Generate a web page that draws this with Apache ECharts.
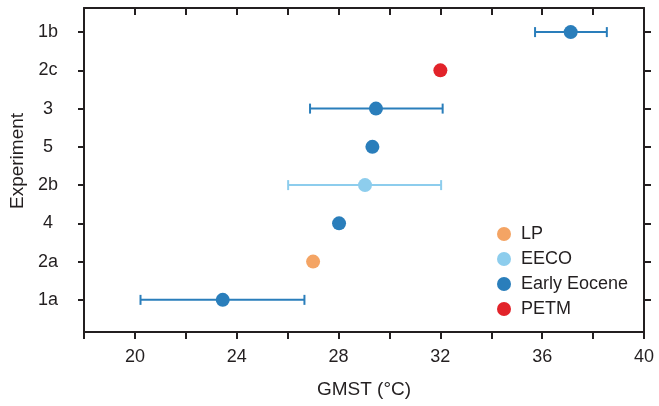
<!DOCTYPE html>
<html>
<head>
<meta charset="utf-8">
<script src="https://cdn.jsdelivr.net/npm/echarts@6/dist/echarts.min.js"></script>
<style>
html,body{margin:0;padding:0;background:#fff;}
#chart{width:659px;height:406px;}
</style>
</head>
<body>
<div id="chart"></div>
<script>
// Experiments from bottom (position 1) to top (position 8)
const experiments = ['1a', '2a', '4', '2b', '5', '3', '2c', '1b'];
// Series: [position, GMST]
const lpData = [[2, 27.0]];
const eecoData = [[4, 29.04]];
const earlyEoceneData = [[1, 23.45], [3, 28.02], [5, 29.33], [6, 29.47], [8, 37.12]];
const petmData = [[7, 32.0]];
// Error bars: [position, low, high, group]
const errorBars = [
  [1, 20.22, 26.66, 'Early Eocene'],
  [4, 26.02, 32.03, 'EECO'],
  [6, 26.88, 32.09, 'Early Eocene'],
  [8, 35.72, 38.54, 'Early Eocene']
];
const xTicks = [20, 24, 28, 32, 36, 40];

const colors = {
  'LP': '#F4A464',
  'EECO': '#8DCDED',
  'Early Eocene': '#2A7EBB',
  'PETM': '#E2232A'
};
const axisColor = '#231f20';
const font = '"Liberation Sans", Arial, sans-serif';

const chart = echarts.init(document.getElementById('chart'), null, {renderer: 'canvas'});

const posValues = experiments.map((_, i) => i + 1);

function scatter(name, data) {
  return {
    name: name,
    type: 'scatter',
    data: data.map(d => [d[1], d[0]]),
    symbol: 'circle',
    symbolSize: 14,
    itemStyle: {color: colors[name], opacity: 1},
    z: 5
  };
}

const option = {
  animation: false,
  textStyle: {fontFamily: font},
  grid: {left: 84, right: 15, top: 8, bottom: 74, containLabel: false},
  legend: {
    orient: 'vertical',
    left: 492,
    top: 220,
    icon: 'circle',
    itemWidth: 14,
    itemHeight: 14,
    itemGap: 7,
    data: ['LP', 'EECO', 'Early Eocene', 'PETM'],
    textStyle: {fontSize: 18, color: axisColor, fontFamily: font, padding: [0, 0, 0, 5]}
  },
  xAxis: [
    {
      type: 'value', position: 'bottom', min: 18, max: 40, interval: 2,
      name: 'GMST (°C)', nameLocation: 'middle', nameGap: 48,
      nameTextStyle: {fontSize: 19, color: axisColor, fontFamily: font},
      axisLine: {show: true, lineStyle: {color: axisColor, width: 2}},
      axisTick: {show: true, inside: false, length: 7, lineStyle: {color: axisColor, width: 2}},
      axisLabel: {
        show: true, margin: 16, fontSize: 18, color: axisColor, fontFamily: font,
        formatter: v => (xTicks.indexOf(v) >= 0 ? String(v) : '')
      },
      splitLine: {show: false}
    },
    {
      type: 'value', position: 'top', min: 18, max: 40, interval: 2,
      axisLine: {show: true, lineStyle: {color: axisColor, width: 2}},
      axisTick: {show: true, inside: true, length: 7, lineStyle: {color: axisColor, width: 2}},
      axisLabel: {show: false},
      splitLine: {show: false}
    }
  ],
  yAxis: [
    {
      type: 'value', position: 'left', min: 0.16, max: 8.63,
      name: 'Experiment', nameLocation: 'middle', nameGap: 56,
      nameTextStyle: {fontSize: 19, color: axisColor, fontFamily: font, padding: [0, 0, 0, 18]},
      axisLine: {show: true, lineStyle: {color: axisColor, width: 2}},
      axisTick: {show: true, inside: false, length: 6, customValues: posValues, lineStyle: {color: axisColor, width: 2}},
      axisLabel: {
        show: true, margin: 36, align: 'center', fontSize: 18, color: axisColor, fontFamily: font,
        customValues: posValues,
        formatter: v => experiments[Math.round(v) - 1] || ''
      },
      splitLine: {show: false}
    },
    {
      type: 'value', position: 'right', min: 0.16, max: 8.63,
      axisLine: {show: true, lineStyle: {color: axisColor, width: 2}},
      axisTick: {show: true, inside: false, length: 7, customValues: posValues, lineStyle: {color: axisColor, width: 2}},
      axisLabel: {show: false, customValues: posValues},
      splitLine: {show: false}
    }
  ],
  series: [
    {
      name: 'errorbars',
      type: 'custom',
      xAxisIndex: 0,
      yAxisIndex: 0,
      data: errorBars.map(d => [d[1], d[2], d[0], d[3]]),
      encode: {x: [0, 1], y: 2},
      renderItem: function (params, api) {
        const lo = api.coord([api.value(0), api.value(2)]);
        const hi = api.coord([api.value(1), api.value(2)]);
        const color = colors[errorBars[params.dataIndex][3]];
        const cap = 5;
        const style = {stroke: color, lineWidth: 2, fill: null};
        return {
          type: 'group',
          children: [
            {type: 'line', shape: {x1: lo[0], y1: lo[1], x2: hi[0], y2: hi[1]}, style: style},
            {type: 'line', shape: {x1: lo[0], y1: lo[1] - cap, x2: lo[0], y2: lo[1] + cap}, style: style},
            {type: 'line', shape: {x1: hi[0], y1: hi[1] - cap, x2: hi[0], y2: hi[1] + cap}, style: style}
          ]
        };
      },
      z: 2
    },
    scatter('LP', lpData),
    scatter('EECO', eecoData),
    scatter('Early Eocene', earlyEoceneData),
    scatter('PETM', petmData)
  ]
};

chart.setOption(option);
</script>
</body>
</html>
